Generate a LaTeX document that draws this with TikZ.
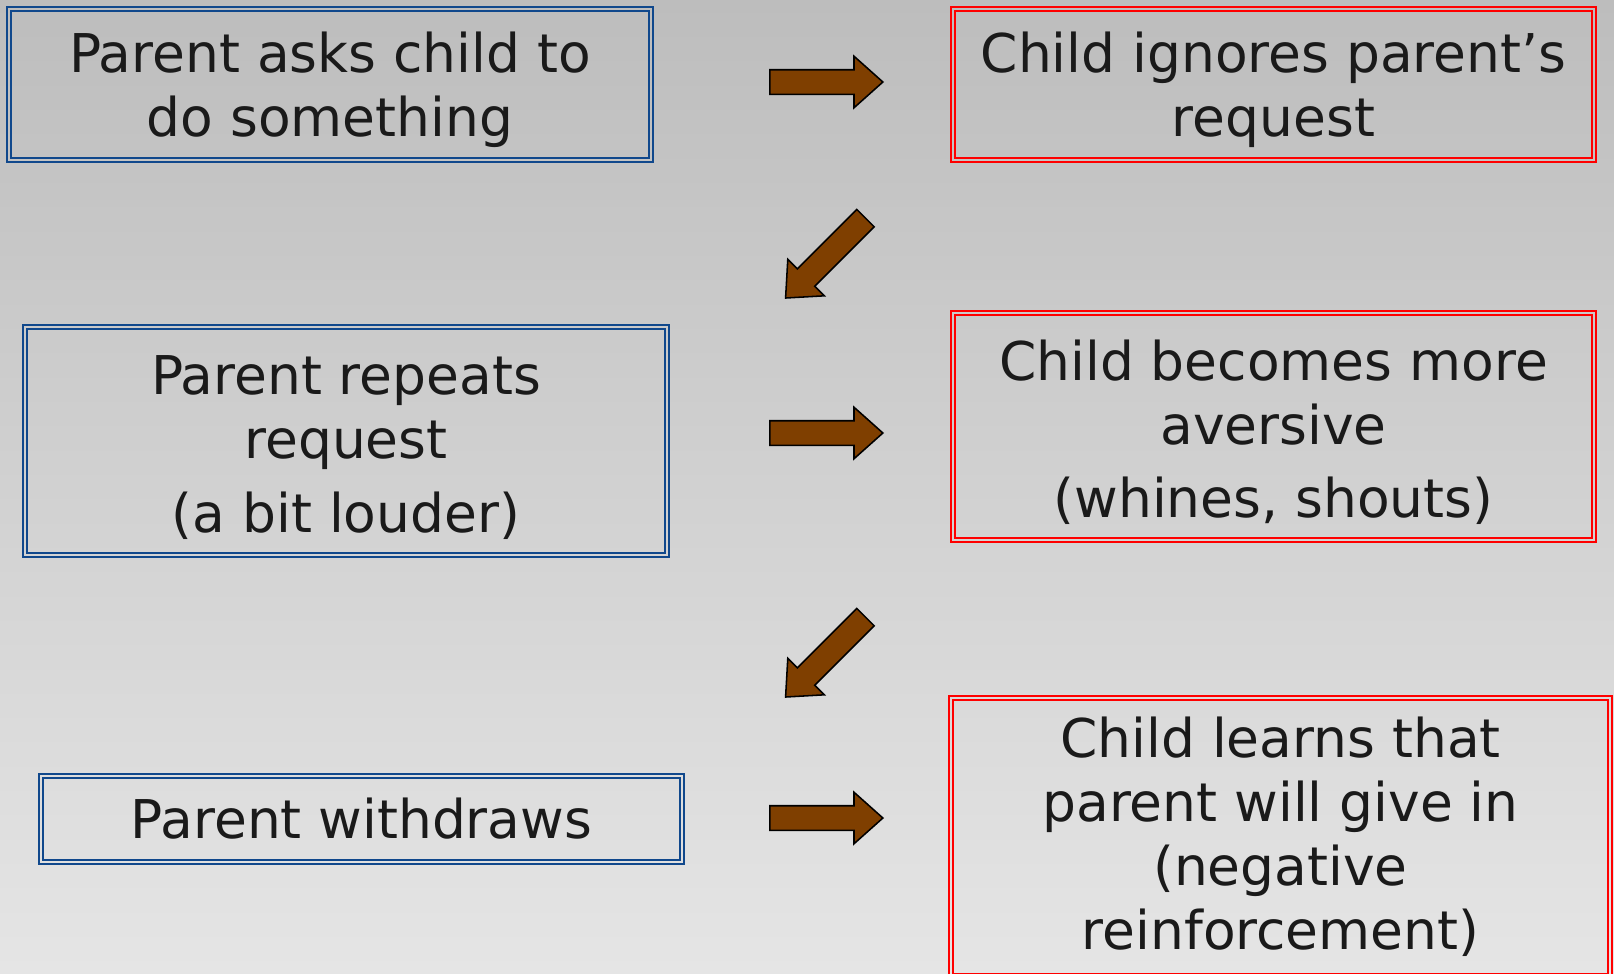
\documentclass[tikz,border=0pt]{standalone}
\usepackage{fontspec}
\setmainfont{DejaVu Sans}
\usetikzlibrary{shapes.arrows}

\definecolor{boxblue}{RGB}{16,72,140}
\definecolor{boxred}{RGB}{255,0,0}
\definecolor{arrowbrown}{RGB}{127,63,0}
\definecolor{textgray}{RGB}{26,26,26}
\definecolor{bgtop}{RGB}{189,189,189}
\definecolor{bgbottom}{RGB}{229,229,229}

% extra room above the first line of a box
\newcommand{\topgap}{\rule{0pt}{37pt}}

\tikzset{
  stepbox/.style={draw=#1, line width=1.9pt, align=center, text=textgray,
    font=\fontsize{38}{45.5}\selectfont, inner sep=0pt},
  blockarrow/.style={single arrow, draw=black, fill=arrowbrown, line width=1.1pt,
    minimum height=2.825cm, inner xsep=0pt, inner ysep=0.2875cm,
    single arrow head extend=0.3375cm, single arrow tip angle=83.5, rotate=#1}
}

\begin{document}
\begin{tikzpicture}
    % draw the background
    \clip (0,0) rectangle (40.35,-24.325);
    \shade[top color=bgtop, bottom color=bgbottom] (0,0) rectangle (40.35,-24.325);

    % parent side
    \node[stepbox=boxblue, minimum width=16.15cm, minimum height=3.875cm] (ask) at (8.25,-2.1125)
        {\topgap Parent asks child to\\do something};
    \node[stepbox=boxblue, minimum width=16.15cm, minimum height=5.8cm] (repeat) at (8.65,-11.025)
        {\topgap Parent repeats\\request\\[7pt](a bit louder)};
    \node[stepbox=boxblue, minimum width=16.125cm, minimum height=2.25cm] (withdraw) at (9.0375,-20.475)
        {Parent withdraws};

    % child side
    \node[stepbox=boxred, minimum width=16.125cm, minimum height=3.875cm] (ignore) at (31.8375,-2.1125)
        {\topgap Child ignores parent’s\\request};
    \node[stepbox=boxred, minimum width=16.125cm, minimum height=5.775cm] (aversive) at (31.8375,-10.6625)
        {\topgap Child becomes more\\aversive\\[7pt](whines, shouts)};
    \node[stepbox=boxred, minimum width=16.575cm, minimum height=7.05cm] (learns) at (32.0125,-20.925)
        {Child learns that\\parent will give in\\(negative\\reinforcement)};

    % inner line of the double frames
    \foreach \b/\c in {ask/boxblue, repeat/boxblue, withdraw/boxblue,
                       ignore/boxred, aversive/boxred, learns/boxred}
        \draw[\c, line width=1.4pt] ([shift={(0.1375,-0.1375)}]\b.north west)
            rectangle ([shift={(-0.1375,0.1375)}]\b.south east);

    % the arrows
    \node[blockarrow=0] (arr1) at (20.4875,-2.05) {};
    \node[blockarrow=225] (arr2) at (20.76,-6.33) {};
    \node[blockarrow=0] (arr3) at (20.4875,-10.825) {};
    \node[blockarrow=225] (arr4) at (20.76,-16.305) {};
    \node[blockarrow=0] (arr5) at (20.4875,-20.45) {};
\end{tikzpicture}
\end{document}
